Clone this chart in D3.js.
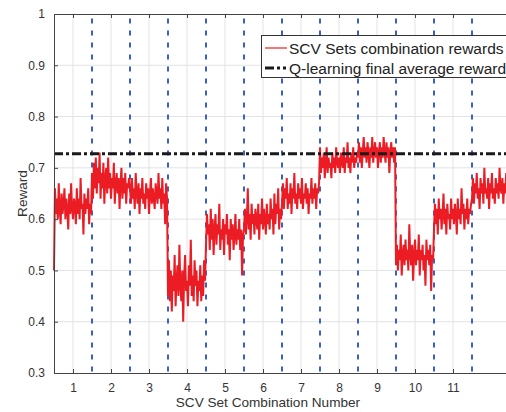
<!DOCTYPE html>
<html>
<head>
<meta charset="utf-8">
<script src="https://cdn.jsdelivr.net/npm/d3@7"></script>
<style>
  html, body { margin: 0; padding: 0; background: #fff; }
  svg { display: block; }
  text { font-family: "Liberation Sans", Arial, Helvetica, sans-serif; }
</style>
</head>
<body>
<div id="chart"></div>
<script>
// reward per iteration, one array per SCV set combination
var set1  = [0.50, 0.66, 0.61, 0.64, 0.60, 0.67, 0.62, 0.59, 0.65, 0.61, 0.63, 0.66, 0.60, 0.64, 0.62, 0.58, 0.65, 0.61, 0.67, 0.62, 0.60, 0.64, 0.63, 0.59, 0.66, 0.61, 0.64, 0.60, 0.68, 0.62, 0.63, 0.57, 0.65, 0.61, 0.64, 0.62, 0.66, 0.59, 0.63, 0.61];
var set2  = [0.69, 0.64, 0.71, 0.66, 0.72, 0.65, 0.70, 0.67, 0.73, 0.64, 0.69, 0.66, 0.71, 0.63, 0.68, 0.70, 0.65, 0.72, 0.66, 0.69, 0.64, 0.68, 0.66, 0.71, 0.63, 0.67, 0.69, 0.65, 0.68, 0.62, 0.67, 0.70, 0.64, 0.68, 0.65, 0.69, 0.63, 0.67, 0.66, 0.68];
var set3  = [0.66, 0.63, 0.68, 0.64, 0.66, 0.62, 0.69, 0.65, 0.63, 0.67, 0.61, 0.66, 0.64, 0.68, 0.63, 0.65, 0.62, 0.67, 0.64, 0.66, 0.61, 0.65, 0.68, 0.63, 0.66, 0.64, 0.62, 0.67, 0.65, 0.63, 0.69, 0.64, 0.66, 0.62, 0.68, 0.63, 0.65, 0.59, 0.67, 0.64];
var set4  = [0.45, 0.52, 0.44, 0.50, 0.42, 0.49, 0.46, 0.53, 0.43, 0.48, 0.51, 0.45, 0.55, 0.47, 0.44, 0.50, 0.40, 0.49, 0.53, 0.46, 0.48, 0.43, 0.51, 0.47, 0.56, 0.45, 0.49, 0.44, 0.52, 0.47, 0.50, 0.43, 0.48, 0.46, 0.51, 0.44, 0.49, 0.45, 0.52, 0.48];
var set5  = [0.55, 0.61, 0.57, 0.59, 0.54, 0.62, 0.56, 0.60, 0.53, 0.58, 0.61, 0.55, 0.59, 0.57, 0.63, 0.54, 0.58, 0.56, 0.60, 0.53, 0.59, 0.57, 0.61, 0.55, 0.58, 0.52, 0.60, 0.56, 0.59, 0.54, 0.57, 0.61, 0.55, 0.58, 0.56, 0.60, 0.54, 0.58, 0.49, 0.57];
var set6  = [0.58, 0.62, 0.57, 0.60, 0.66, 0.58, 0.61, 0.56, 0.63, 0.59, 0.61, 0.57, 0.62, 0.60, 0.58, 0.63, 0.56, 0.61, 0.59, 0.64, 0.58, 0.62, 0.60, 0.57, 0.63, 0.59, 0.61, 0.58, 0.64, 0.60, 0.62, 0.57, 0.65, 0.59, 0.63, 0.61, 0.66, 0.58, 0.62, 0.60];
var set7  = [0.63, 0.67, 0.62, 0.66, 0.64, 0.68, 0.62, 0.65, 0.63, 0.67, 0.61, 0.66, 0.64, 0.69, 0.63, 0.65, 0.62, 0.67, 0.64, 0.66, 0.63, 0.68, 0.62, 0.65, 0.64, 0.67, 0.63, 0.66, 0.61, 0.65, 0.64, 0.68, 0.63, 0.66, 0.64, 0.67, 0.62, 0.66, 0.65, 0.67];
var set8  = [0.74, 0.69, 0.72, 0.70, 0.73, 0.68, 0.71, 0.74, 0.69, 0.72, 0.70, 0.71, 0.68, 0.73, 0.70, 0.72, 0.69, 0.74, 0.71, 0.70, 0.72, 0.69, 0.73, 0.71, 0.70, 0.74, 0.69, 0.72, 0.71, 0.75, 0.70, 0.72, 0.69, 0.73, 0.71, 0.74, 0.70, 0.72, 0.71, 0.73];
var set9  = [0.72, 0.75, 0.71, 0.74, 0.70, 0.73, 0.76, 0.72, 0.74, 0.71, 0.75, 0.73, 0.70, 0.74, 0.72, 0.76, 0.71, 0.73, 0.75, 0.72, 0.74, 0.70, 0.73, 0.75, 0.71, 0.74, 0.72, 0.76, 0.73, 0.71, 0.75, 0.72, 0.74, 0.69, 0.73, 0.75, 0.72, 0.74, 0.71, 0.74];
var set10 = [0.51, 0.55, 0.50, 0.54, 0.52, 0.57, 0.49, 0.53, 0.55, 0.51, 0.56, 0.52, 0.54, 0.50, 0.59, 0.53, 0.51, 0.55, 0.48, 0.53, 0.56, 0.51, 0.54, 0.52, 0.57, 0.49, 0.54, 0.52, 0.55, 0.50, 0.53, 0.47, 0.56, 0.52, 0.54, 0.51, 0.55, 0.46, 0.53, 0.52];
var set11 = [0.58, 0.63, 0.59, 0.62, 0.57, 0.64, 0.60, 0.62, 0.58, 0.61, 0.65, 0.59, 0.62, 0.57, 0.63, 0.60, 0.61, 0.58, 0.64, 0.60, 0.62, 0.59, 0.63, 0.61, 0.57, 0.64, 0.60, 0.62, 0.59, 0.66, 0.61, 0.63, 0.58, 0.62, 0.60, 0.64, 0.59, 0.62, 0.61, 0.63];
var set12 = [0.64, 0.68, 0.63, 0.67, 0.65, 0.69, 0.64, 0.66, 0.62, 0.68, 0.65, 0.67, 0.63, 0.70, 0.65, 0.66, 0.64, 0.68, 0.62, 0.67, 0.65, 0.69, 0.64, 0.66, 0.63, 0.68, 0.65, 0.67, 0.64, 0.70, 0.66, 0.65, 0.68, 0.63, 0.67, 0.65, 0.69, 0.64, 0.67, 0.66];

var sets = [set1, set2, set3, set4, set5, set6, set7, set8, set9, set10, set11, set12];
var qAverage = 0.7275;
var boundaries = [1.5, 2.5, 3.5, 4.5, 5.5, 6.5, 7.5, 8.5, 9.5, 10.5, 11.5];
var xTicks = [1, 2, 3, 4, 5, 6, 7, 8, 9, 10, 11];
var yTicks = [0.3, 0.4, 0.5, 0.6, 0.7, 0.8, 0.9, 1];
var legendLabels = ["SCV Sets combination rewards", "Q-learning final average reward"];

function drawChart(id) {
    var W = 506, H = 412;
    var margin = {left: 54, top: 14};
    var width = 456, height = 359;
    var axisColor = "#444";

    var svg = d3.select("#" + id)
        .append("svg")
            .attr("width", W)
            .attr("height", H);
    var g = svg.append("g")
        .attr("transform", "translate(" + margin.left + "," + margin.top + ")");

    var x = d3.scaleLinear().domain([0.5, 12.5]).range([0, width]);
    var y = d3.scaleLinear().domain([0.3, 1]).range([height, 0]);

    // flatten sets into (position, reward) points
    var points = [];
    sets.forEach(function (s, k) {
        s.forEach(function (v, i) {
            points.push({pos: k + 0.5 + i / s.length, reward: v});
        });
    });

    // grid
    g.append("g")
        .selectAll("line")
        .data(xTicks)
        .enter()
        .append("line")
        .attr("x1", function (d) { return x(d); })
        .attr("x2", function (d) { return x(d); })
        .attr("y1", 0)
        .attr("y2", height)
        .attr("stroke", "#e3e3e3");
    g.append("g")
        .selectAll("line")
        .data(yTicks.slice(1, -1))
        .enter()
        .append("line")
        .attr("x1", 0)
        .attr("x2", width)
        .attr("y1", function (d) { return y(d); })
        .attr("y2", function (d) { return y(d); })
        .attr("stroke", "#e3e3e3");

    // set boundaries
    g.append("g")
        .selectAll("line")
        .data(boundaries)
        .enter()
        .append("line")
        .attr("x1", function (d) { return x(d); })
        .attr("x2", function (d) { return x(d); })
        .attr("y1", 4.5)
        .attr("y2", height)
        .attr("stroke", "#3d5fc2")
        .attr("stroke-width", 2)
        .attr("stroke-dasharray", "5,7");

    // reward trace
    var line = d3.line()
        .x(function (d) { return x(d.pos); })
        .y(function (d) { return y(d.reward); });
    g.append("path")
        .datum(points)
        .attr("d", line)
        .attr("fill", "none")
        .attr("stroke", "#ec1c24")
        .attr("stroke-width", 2)
        .attr("stroke-linejoin", "miter");

    // Q-learning average
    g.append("line")
        .attr("x1", 0)
        .attr("x2", width)
        .attr("y1", y(qAverage))
        .attr("y2", y(qAverage))
        .attr("stroke", "#1a1a1a")
        .attr("stroke-width", 3)
        .attr("stroke-dasharray", "9,3,3,3");

    // axes, ticks pointing inward (matlab style)
    var xb = g.append("g").attr("transform", "translate(0," + height + ")")
        .call(d3.axisBottom(x).tickValues(xTicks).tickSizeInner(-4).tickSizeOuter(0).tickPadding(10));
    var xt = g.append("g")
        .call(d3.axisTop(x).tickValues(xTicks).tickSizeInner(-4).tickSizeOuter(0).tickFormat(""));
    var yl = g.append("g")
        .call(d3.axisLeft(y).tickValues(yTicks).tickSizeInner(-4).tickSizeOuter(0).tickPadding(9)
            .tickFormat(function (d) { return d === 1 ? "1" : d3.format(".1f")(d); }));
    var yr = g.append("g").attr("transform", "translate(" + width + ",0)")
        .call(d3.axisRight(y).tickValues(yTicks).tickSizeInner(-4).tickSizeOuter(0).tickFormat(""));
    [xb, xt, yl, yr].forEach(function (a) {
        a.select(".domain").attr("stroke", axisColor);
        a.selectAll(".tick line").attr("stroke", axisColor);
        a.selectAll("text").attr("fill", "#333").style("font-size", "12px")
            .style("font-family", "'Liberation Sans', Arial, sans-serif");
    });

    // axis labels
    svg.append("text")
        .attr("x", margin.left + x(6.13))
        .attr("y", 407)
        .attr("text-anchor", "middle")
        .attr("fill", "#333")
        .style("font-size", "13.6px")
        .text("SCV Set Combination Number");
    svg.append("text")
        .attr("transform", "translate(27," + (margin.top + height / 2) + ") rotate(-90)")
        .attr("text-anchor", "middle")
        .attr("fill", "#333")
        .style("font-size", "13.6px")
        .text("Reward");

    // legend
    var legend = svg.append("g").attr("transform", "translate(261,35)");
    legend.append("rect")
        .attr("x", 0.5).attr("y", 0.5)
        .attr("width", 300).attr("height", 42)
        .attr("fill", "#fff")
        .attr("stroke", "#333")
        .attr("stroke-width", 1);
    legend.append("line")
        .attr("x1", 4).attr("x2", 26).attr("y1", 13).attr("y2", 13)
        .attr("stroke", "#ec1c24").attr("stroke-width", 1.2);
    legend.append("line")
        .attr("x1", 4).attr("x2", 25).attr("y1", 33).attr("y2", 33)
        .attr("stroke", "#1a1a1a").attr("stroke-width", 3)
        .attr("stroke-dasharray", "9,3,3,3");
    legend.selectAll("text.lab")
        .data(legendLabels)
        .enter()
        .append("text")
        .attr("class", "lab")
        .attr("x", 28)
        .attr("y", function (d, i) { return 19 + i * 19.5; })
        .attr("fill", "#222")
        .style("font-size", "15.5px")
        .text(function (d) { return d; });
}

drawChart("chart");
</script>
</body>
</html>
